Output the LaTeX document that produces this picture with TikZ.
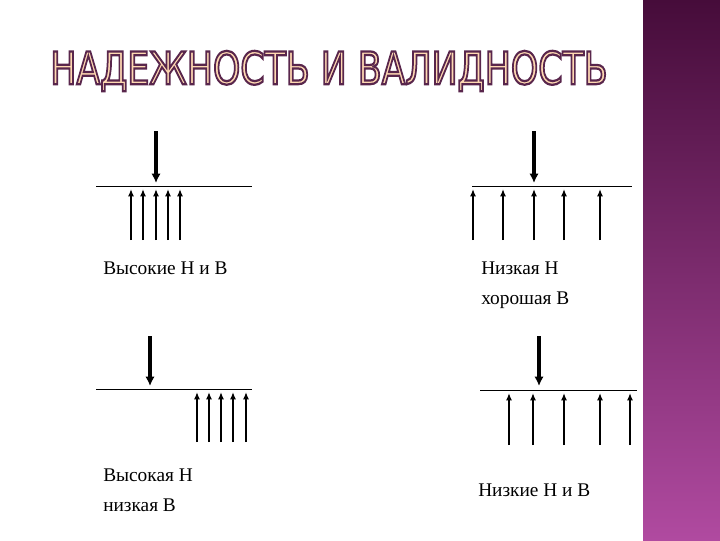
\documentclass[tikz,border=0pt]{standalone}
\usepackage{fontspec}
\usetikzlibrary{arrows.meta}
\setmainfont{Liberation Serif}
\newfontfamily\titlefont{DejaVu Sans}
\begin{document}
\begin{tikzpicture}[x=0.75pt,y=-0.75pt,
  big/.style={line width=2.6pt,-{Latex[length=7pt,width=7pt]}},
  small/.style={line width=1.2pt,-{Latex[length=5.5pt,width=4.5pt]}},
  base/.style={line width=0.6pt},
  lbl/.style={font=\fontsize{14.5pt}{22.5pt}\selectfont,anchor=west,align=left,inner sep=0pt}]
\useasboundingbox (0,0) rectangle (720,540);
\fill[white] (0,0) rectangle (720,540);
\shade[top color={rgb,255:red,70;green,12;blue,58},bottom color={rgb,255:red,176;green,74;blue,160}] (643,0) rectangle (720,540);
\node[inner sep=0pt,text=orange!30] (title) at (329,71) {\special{pdf:literal direct 2 Tr 0.5 w 0.35 0.15 0.3 RG}\resizebox{418pt}{25pt}{\titlefont НАДЕЖНОСТЬ И ВАЛИДНОСТЬ}\special{pdf:literal direct 0 Tr}};
% panel 1
\coordinate (l1a) at (96,186); \coordinate (l1b) at (252,186);
\draw[base] (l1a) -- (l1b);
\coordinate (b1s) at (156,131); \coordinate (b1e) at (156,183);
\draw[big] (b1s) -- (b1e);
\foreach \x in {131,143,156,168,180}{\draw[small] (\x,240) -- (\x,189);}
\node[lbl] (t1) at (103,268) {Высокие Н и В};
% panel 2
\coordinate (l2a) at (472,186); \coordinate (l2b) at (632,186);
\draw[base] (l2a) -- (l2b);
\coordinate (b2s) at (534,131); \coordinate (b2e) at (534,183);
\draw[big] (b2s) -- (b2e);
\foreach \x in {473,503,534,564,600}{\draw[small] (\x,240) -- (\x,189);}
\node[lbl] (t2) at (481,285) {Низкая Н\\хорошая В};
% panel 3
\coordinate (l3a) at (96,389); \coordinate (l3b) at (252,389);
\draw[base] (l3a) -- (l3b);
\coordinate (b3s) at (150,336); \coordinate (b3e) at (150,386);
\draw[big] (b3s) -- (b3e);
\foreach \x in {197,209,221,233,246}{\draw[small] (\x,442) -- (\x,392);}
\node[lbl] (t3) at (103,490) {Высокая Н\\низкая В};
% panel 4
\coordinate (l4a) at (480,390); \coordinate (l4b) at (637,390);
\draw[base] (l4a) -- (l4b);
\coordinate (b4s) at (539,336); \coordinate (b4e) at (539,386);
\draw[big] (b4s) -- (b4e);
\foreach \x in {509,533,564,600,630}{\draw[small] (\x,445) -- (\x,393);}
\node[lbl] (t4) at (478,490) {Низкие Н и В};
\end{tikzpicture}
\end{document}
